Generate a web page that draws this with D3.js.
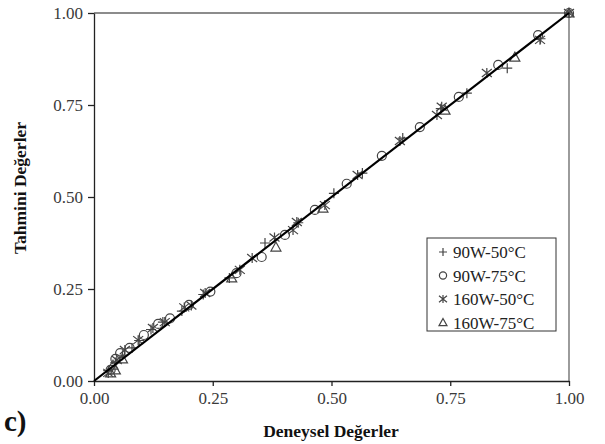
<!DOCTYPE html>
<html><head><meta charset="utf-8">
<script src="https://cdn.jsdelivr.net/npm/d3@7/dist/d3.min.js"></script>
<style>body{margin:0;background:#fff}svg{display:block}</style>
</head><body>
<script>
const ticks = [0, 0.25, 0.5, 0.75, 1.0];
const tickLabels = ["0.00", "0.25", "0.50", "0.75", "1.00"];
const seriesNames = ["90W-50°C", "90W-75°C", "160W-50°C", "160W-75°C"];
const s90_50 = [[0.03,0.028],[0.045,0.05],[0.06,0.07],[0.08,0.09],[0.095,0.11],[0.12,0.14],[0.145,0.16],[0.185,0.19],[0.23,0.235],[0.285,0.28],[0.36,0.375],[0.43,0.43],[0.505,0.51],[0.565,0.565],[0.65,0.66],[0.73,0.74],[0.785,0.782],[0.87,0.85],[0.94,0.93],[1.0,1.0]];
const s90_75 = [[0.035,0.03],[0.045,0.06],[0.055,0.076],[0.075,0.09],[0.105,0.125],[0.135,0.155],[0.16,0.17],[0.2,0.207],[0.245,0.243],[0.3,0.293],[0.353,0.337],[0.402,0.397],[0.465,0.465],[0.532,0.536],[0.606,0.612],[0.686,0.69],[0.768,0.772],[0.851,0.859],[0.935,0.94],[1.0,1.0]];
const s160_50 = [[0.03,0.022],[0.048,0.057],[0.065,0.084],[0.093,0.111],[0.124,0.144],[0.149,0.16],[0.19,0.2],[0.205,0.205],[0.234,0.239],[0.307,0.302],[0.333,0.334],[0.38,0.39],[0.419,0.41],[0.427,0.432],[0.486,0.478],[0.555,0.56],[0.644,0.652],[0.722,0.723],[0.732,0.745],[0.827,0.837],[0.939,0.927],[1.0,1.0]];
const s160_75 = [[0.035,0.022],[0.04,0.043],[0.045,0.03],[0.06,0.06],[0.29,0.28],[0.383,0.364],[0.482,0.47],[0.739,0.736],[0.886,0.88],[1.0,1.0]];
const allSeries = [s90_50, s90_75, s160_50, s160_75];
const shapes = ["plus", "circle", "star", "triangle"];

const W = 605, H = 444;
const svg = d3.select("body").append("svg").attr("width", W).attr("height", H);
const x = d3.scaleLinear().domain([0, 1]).range([94, 569]);
const y = d3.scaleLinear().domain([0, 1]).range([381, 13]);
const serif = "'Liberation Serif','Times New Roman',serif";

// plot border top/right
svg.append("line").attr("x1", x(0)).attr("x2", x(1)).attr("y1", y(1)).attr("y2", y(1)).attr("stroke", "#666").attr("stroke-width", 1.3);
svg.append("line").attr("x1", x(1)).attr("x2", x(1)).attr("y1", y(0)).attr("y2", y(1)).attr("stroke", "#666").attr("stroke-width", 1.3);

const xAxis = svg.append("g").attr("transform", `translate(0,${y(0)})`)
  .call(d3.axisBottom(x).tickValues(ticks).tickFormat((d, i) => tickLabels[i]).tickSize(5).tickSizeOuter(0));
const yAxis = svg.append("g").attr("transform", `translate(${x(0)},0)`)
  .call(d3.axisLeft(y).tickValues(ticks).tickFormat((d, i) => tickLabels[i]).tickSize(6).tickSizeOuter(0));
[xAxis, yAxis].forEach(g => {
  g.selectAll("path,line").attr("stroke", "#222").attr("stroke-width", 1.3);
  g.selectAll("text").attr("font-family", serif).attr("font-size", 17).attr("fill", "#3a3a3a");
});
xAxis.selectAll("text").attr("y", 11).attr("dy", "0.71em");
yAxis.selectAll("text").attr("x", -11);

// markers
const mcol = "#444";
function drawMarker(g, shape, cx, cy, k = 1) {
  const a = 5 * k;
  if (shape === "plus") {
    g.append("path").attr("d", `M${cx-a},${cy}H${cx+a}M${cx},${cy-a}V${cy+a}`).attr("stroke", mcol).attr("stroke-width", 1.2).attr("fill", "none");
  } else if (shape === "circle") {
    g.append("circle").attr("cx", cx).attr("cy", cy).attr("r", 4.5 * k).attr("stroke", mcol).attr("stroke-width", 1.2).attr("fill", "none");
  } else if (shape === "star") {
    g.append("path").attr("d", `M${cx-a},${cy-0.8*a}L${cx+a},${cy+0.8*a}M${cx-a},${cy+0.8*a}L${cx+a},${cy-0.8*a}M${cx},${cy-a}V${cy+a}`).attr("stroke", mcol).attr("stroke-width", 1.2).attr("fill", "none");
  } else {
    g.append("path").attr("d", `M${cx},${cy-a}L${cx+a},${cy+0.8*a}L${cx-a},${cy+0.8*a}Z`).attr("stroke", mcol).attr("stroke-width", 1.2).attr("fill", "none");
  }
}
const mg = svg.append("g");
allSeries.forEach((s, i) => s.forEach(d => drawMarker(mg, shapes[i], x(d[0]), y(d[1]))));

// diagonal line
svg.append("line").attr("x1", x(0)).attr("y1", y(0)).attr("x2", x(1)).attr("y2", y(1)).attr("stroke", "#000").attr("stroke-width", 2.2);

// legend
const lg = svg.append("g");
lg.append("rect").attr("x", 427).attr("y", 238).attr("width", 129).attr("height", 93).attr("fill", "#fff").attr("stroke", "#333").attr("stroke-width", 1);
seriesNames.forEach((n, i) => {
  const cy = 252 + i * 23.5;
  drawMarker(lg, shapes[i], 443, cy, 0.8);
  lg.append("text").attr("x", 453).attr("y", cy + 6).attr("font-family", serif).attr("font-size", 17).attr("fill", "#222").text(n);
});

// labels
svg.append("text").attr("x", 331).attr("y", 437).attr("text-anchor", "middle").attr("font-family", serif).attr("font-weight", "bold").attr("font-size", 17.5).attr("fill", "#111").text("Deneysel Değerler");
svg.append("text").attr("transform", "translate(26,188) rotate(-90)").attr("text-anchor", "middle").attr("font-family", serif).attr("font-weight", "bold").attr("font-size", 17.5).attr("fill", "#111").text("Tahmini  Değerler");
svg.append("text").attr("x", 4).attr("y", 431).attr("font-family", serif).attr("font-weight", "bold").attr("font-size", 29).attr("fill", "#111").text("c)");
</script>
</body></html>
